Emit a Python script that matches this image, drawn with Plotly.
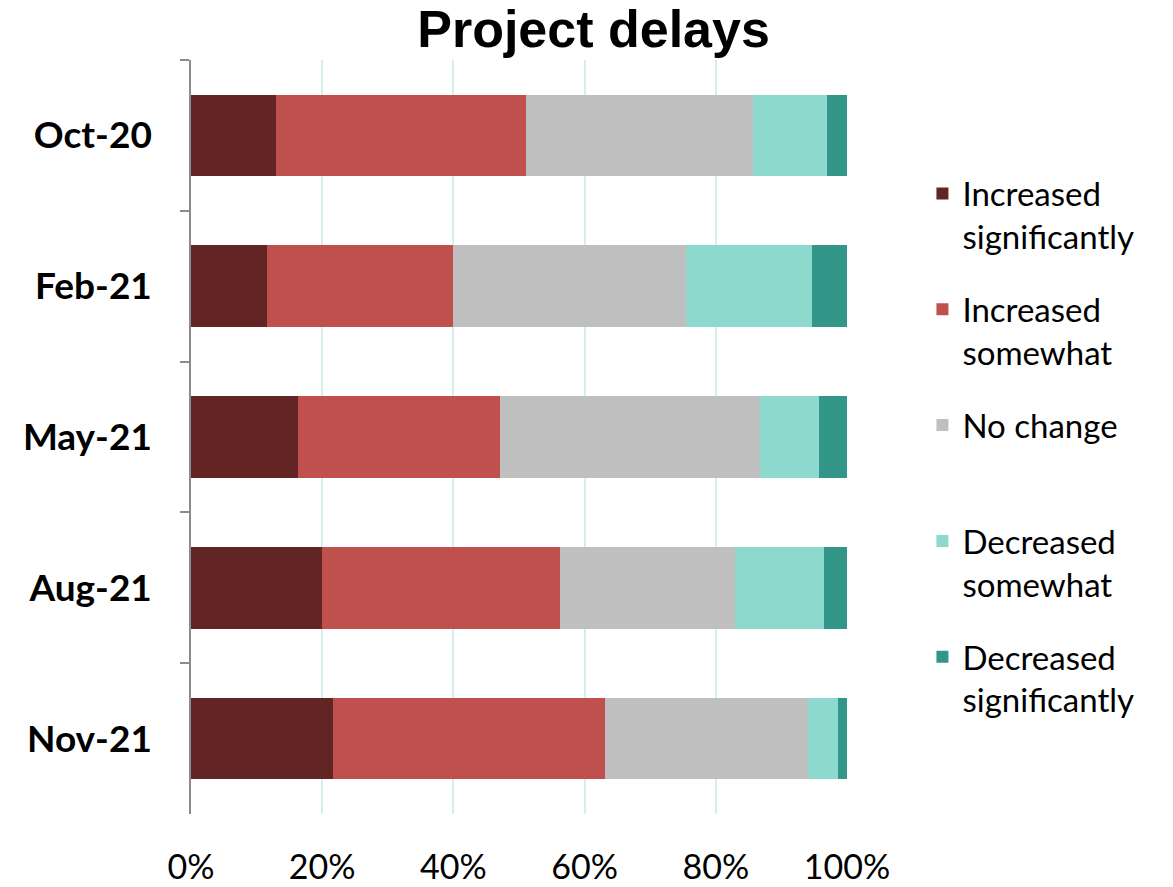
import plotly.graph_objects as go

periods = ["Oct-20", "Feb-21", "May-21", "Aug-21", "Nov-21"]

increased_significantly = [12.9, 11.6, 16.3, 20.0, 21.6]
increased_somewhat = [38.1, 28.4, 30.8, 36.3, 41.5]
no_change = [34.7, 35.5, 39.6, 26.6, 30.9]
decreased_somewhat = [11.3, 19.1, 9.1, 13.6, 4.7]
decreased_significantly = [3.0, 5.4, 4.3, 3.5, 1.3]

series = [
    ("Increased<br>significantly", increased_significantly, "#632523"),
    ("Increased<br>somewhat", increased_somewhat, "#C0504D"),
    ("No change<br> ", no_change, "#BFBFBF"),
    ("Decreased<br>somewhat", decreased_somewhat, "#8ED9CE"),
    ("Decreased<br>significantly", decreased_significantly, "#329688"),
]

fig = go.Figure()
for i, (name, vals, color) in enumerate(series):
    fig.add_trace(go.Bar(
        y=periods, x=vals, name=name, orientation="h",
        marker=dict(color=color, line=dict(width=0)),
        legendgroup=f"g{i}",
        hoverinfo="x+name",
    ))

fig.update_layout(
    barmode="stack",
    bargap=0.46,
    width=1173, height=887,
    margin=dict(l=191, r=326, t=60, b=73),
    paper_bgcolor="white",
    plot_bgcolor="white",
    title=dict(
        text="<b>Project delays</b>",
        x=0.506, xanchor="center", y=0.968, yanchor="middle",
        font=dict(family="Liberation Sans, Arial, sans-serif", size=52, color="black"),
    ),
    legend=dict(
        x=1.115, xanchor="left", y=0.86, yanchor="top",
        font=dict(family="Lato, sans-serif", size=33, color="black"),
        traceorder="grouped",
        tracegroupgap=27,
        valign="top",
        itemwidth=30,
    ),
    font=dict(family="Lato, sans-serif", color="black"),
)

fig.update_xaxes(
    range=[0, 100], dtick=20, ticksuffix="%",
    showgrid=True, gridcolor="#D5EFEB", gridwidth=1.5,
    zeroline=False, showline=False,
    ticks="", tickfont=dict(size=34, family="Lato, sans-serif", color="black"),
    ticklabelstandoff=30,
    automargin=False,
)

fig.update_yaxes(
    autorange="reversed",
    showline=True, linecolor="#8C8C8C", linewidth=1.5,
    ticks="outside", tickson="boundaries", ticklen=9, tickcolor="#8C8C8C", tickwidth=1.5,
    showgrid=False,
    tickfont=dict(size=37, family="Lato, sans-serif", color="black", weight="bold"),
    ticklabelstandoff=30,
    automargin=False,
)

fig.write_html("out.html")
